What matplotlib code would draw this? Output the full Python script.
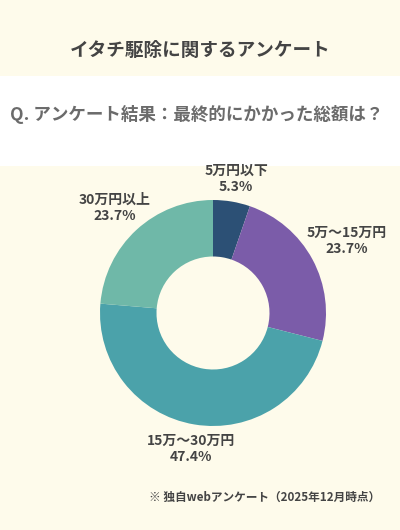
import matplotlib.pyplot as plt
from matplotlib.patches import Rectangle

plt.rcParams['font.family'] = ['Noto Sans CJK JP', 'DejaVu Sans']

# データ
categories = ['5万円以下', '5万～15万円', '15万～30万円', '30万円以上']
shares = [5.3, 23.7, 47.4, 23.7]
colors = ['#2c5075', '#7b5ca9', '#4ba2aa', '#6fb8a8']

title = 'イタチ駆除に関するアンケート'
question = 'Q. アンケート結果：最終的にかかった総額は？'
note = '※ 独自webアンケート（2025年12月時点）'

W, H = 400, 530
bg = '#fefbeb'
dark = '#444444'

fig = plt.figure(figsize=(W / 100, H / 100), dpi=100, facecolor=bg)

# 背景（ピクセル座標）
bgax = fig.add_axes([0, 0, 1, 1])
bgax.set_xlim(0, W)
bgax.set_ylim(H, 0)
bgax.axis('off')
bgax.add_patch(Rectangle((0, 76), W, 90, facecolor='white', edgecolor='none'))

bgax.text(200, 50, title, ha='center', va='center', fontsize=13.4,
          fontweight='bold', color=dark)
bgax.text(10, 115, question, ha='left', va='center', fontsize=12.6,
          fontweight='bold', color='#6b6b6b')

# ドーナツ
cx, cy, r = 213, 313, 113
pax = fig.add_axes([(cx - r) / W, (H - cy - r) / H, 2 * r / W, 2 * r / H])
pax.pie(shares, colors=colors, startangle=90, counterclock=False,
        radius=1, wedgeprops=dict(width=0.5, edgecolor='none'))
pax.set_xlim(-1, 1)
pax.set_ylim(-1, 1)
pax.set_aspect('equal')
pax.axis('off')

# ラベル位置（ピクセル）
label_pos = [(236, 171), (347, 233), (191, 441), (115, 200)]
for cat, val, (lx, ly) in zip(categories, shares, label_pos):
    bgax.text(lx, ly, cat, ha='center', va='center', fontsize=10,
              fontweight='bold', color=dark)
    bgax.text(lx, ly + 16, f'{val}%', ha='center', va='center', fontsize=10,
              fontweight='bold', color=dark)

bgax.text(265, 497, note, ha='center', va='center', fontsize=8.4,
          fontweight='bold', color=dark)

fig.savefig('out.png', dpi=100, facecolor=bg)
plt.close(fig)
